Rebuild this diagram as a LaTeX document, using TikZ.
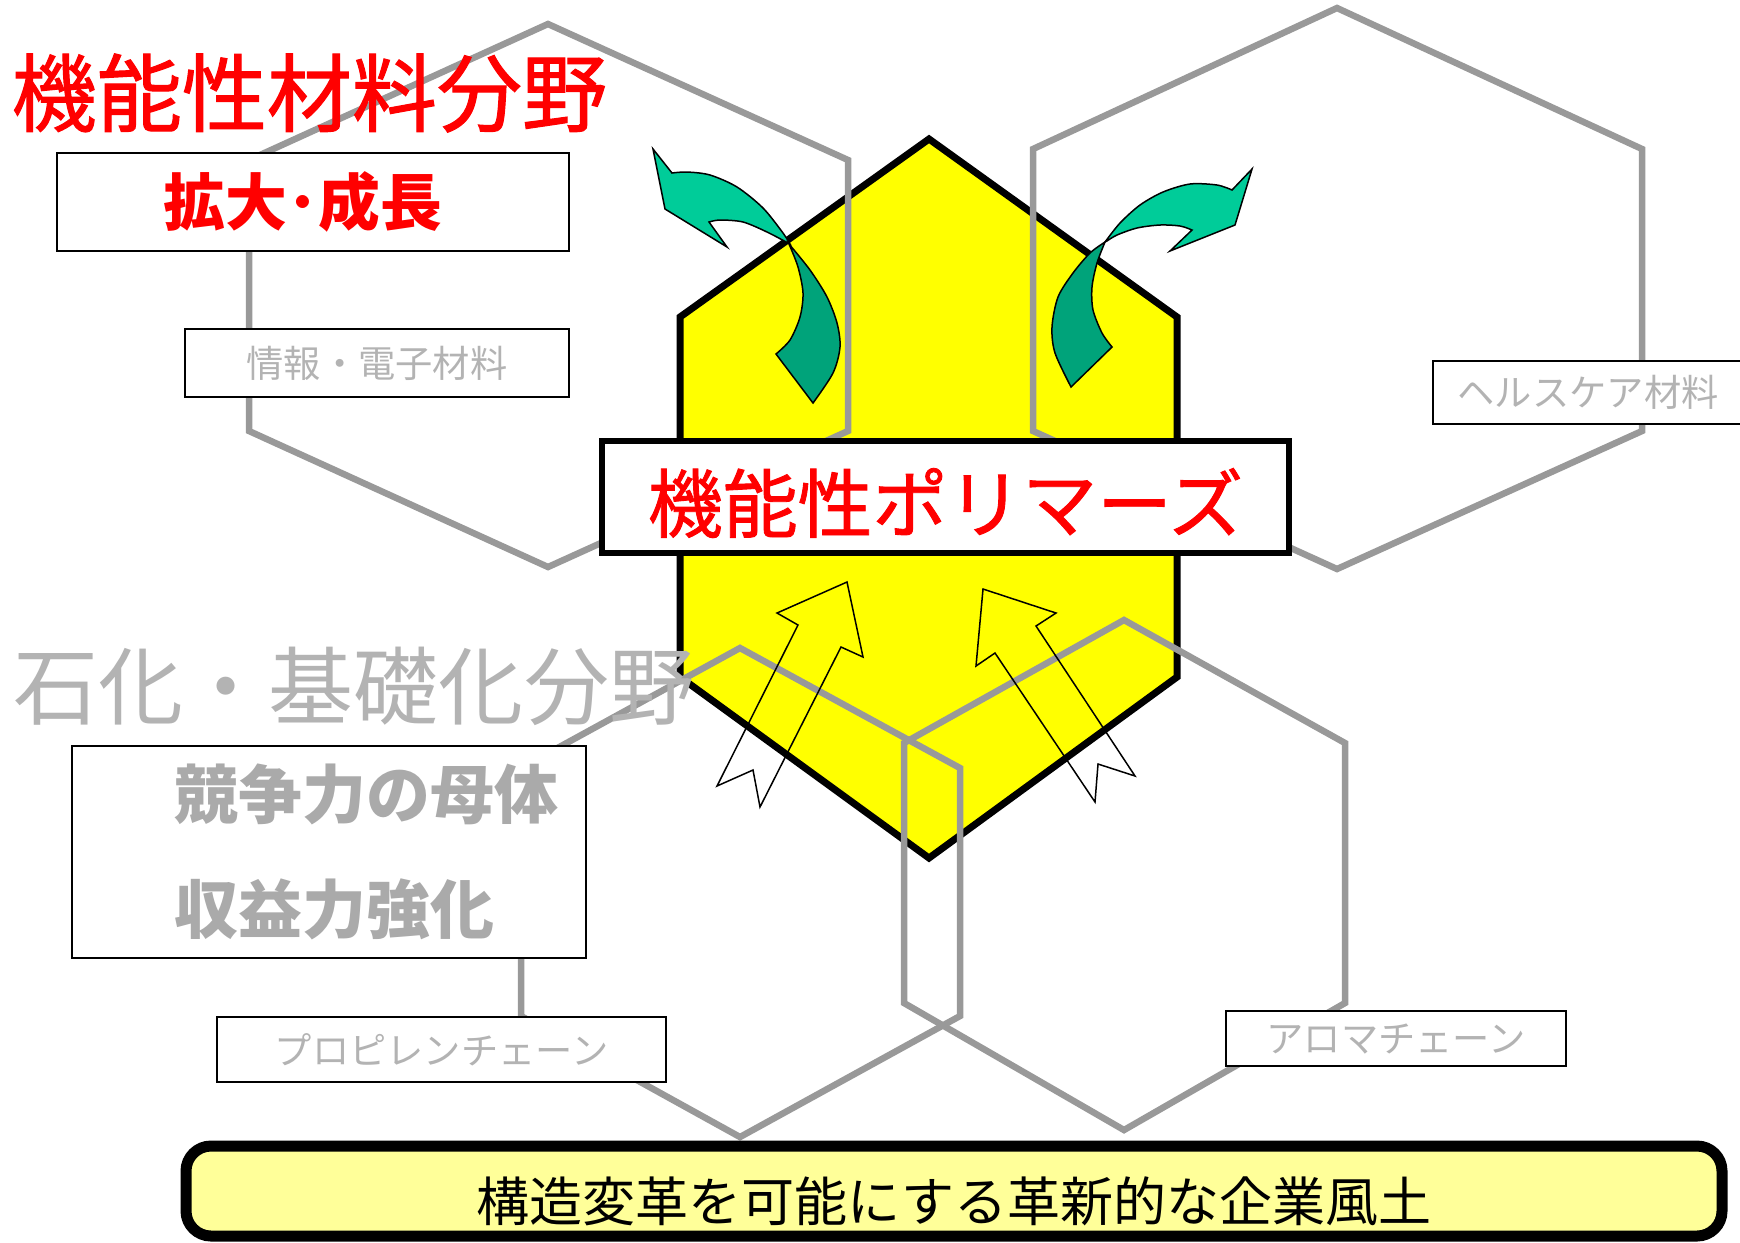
\documentclass[tikz,border=0pt]{standalone}
\usepackage{fontspec}
\newfontfamily\jpfont{Noto Sans CJK JP}
\newfontfamily\jpmed[FakeBold=1.2]{Noto Sans CJK JP}
\usetikzlibrary{positioning}
\definecolor{hexgray}{HTML}{999999}
\definecolor{txtgray}{HTML}{B3B3B3}
\definecolor{boldgray}{HTML}{AAAAAA}
\definecolor{hexyellow}{HTML}{FFFF00}
\definecolor{cultyellow}{HTML}{FFFF99}
\definecolor{greenlight}{HTML}{00CC99}
\definecolor{greendark}{HTML}{00A37A}
\newcommand{\titlesize}{\fontsize{24.2pt}{28pt}\selectfont}
\tikzset{
  hexline/.style={draw=hexgray,line width=0.65mm},
  thinbox/.style={draw=black,line width=0.2mm,fill=white,inner sep=0pt},
  smalltext/.style={text=txtgray,font=\jpfont\fontsize{10.6pt}{12pt}\selectfont},
  bigtitle/.style={inner sep=0pt,anchor=west},
  outline/.style={draw=black,line width=0.15mm},
}
\begin{document}
\begin{tikzpicture}[x=0.1mm,y=-0.1mm]
\useasboundingbox (0,0) rectangle (1740,1242);
% Kern: gelbes Sechseck
\filldraw[fill=hexyellow,draw=black,line width=0.7mm]
  (929,139) -- (1177,317) -- (1177,677) -- (929,858) -- (680,677) -- (680,317) -- cycle;
% Felder
\draw[hexline] (548,24) -- (848,160) -- (848,431) -- (548,567) -- (249,431) -- (249,160) -- cycle;
\draw[hexline] (1337,8) -- (1642,149) -- (1642,431) -- (1337,569) -- (1033,431) -- (1033,149) -- cycle;
\draw[hexline] (740,648) -- (960,768) -- (960,1016) -- (740,1137) -- (521,1016) -- (521,768) -- cycle;
\draw[hexline] (1124,620) -- (1345,743) -- (1345,1003) -- (1124,1130) -- (904,1003) -- (904,743) -- cycle;
% Kaesten
\node[thinbox,minimum width=51.2mm,minimum height=9.8mm] (kakudai) at (313,202) {};
\node[inner sep=0pt,text=red,font=\jpfont\bfseries\fontsize{17.6pt}{20pt}\selectfont]
  (kakudaitext) at ([xshift=-1mm]kakudai.center) {拡大･成長};
\node[thinbox,smalltext,minimum width=38.4mm,minimum height=6.8mm] (joho) at (377,363) {情報・電子材料};
\node[thinbox,minimum width=32.7mm,minimum height=6.3mm] (health) at (1596.5,392.5) {};
\node[smalltext,inner sep=0pt,right=2.5mm of health.west] (healthtext) {ヘルスケア材料};
\node[thinbox,draw=black,line width=0.6mm,minimum width=68.7mm,minimum height=11.2mm] (polymer) at (945.5,497) {};
\node[inner sep=0pt,text=red,font=\jpmed\fontsize{21.3pt}{24pt}\selectfont]
  (polymertext) at ([yshift=-0.6mm]polymer.center) {機能性ポリマーズ};
\node[thinbox,minimum width=51.4mm,minimum height=21.2mm] (kyoso) at (329,852) {};
\node[inner sep=0pt,align=left,text=boldgray,right=10.3mm of kyoso.west,
  font=\jpfont\bfseries\fontsize{18.2pt}{32.7pt}\selectfont] (kyosotext) {競争力の母体\\収益力強化};
\node[thinbox,smalltext,minimum width=44.9mm,minimum height=6.5mm] (propylene) at (441.5,1049.5) {プロピレンチェーン};
\node[thinbox,smalltext,minimum width=34mm,minimum height=5.5mm] (aroma) at (1396,1038.5) {アロマチェーン};
\node[draw=black,line width=1.1mm,fill=cultyellow,rounded corners=2.5mm,
  minimum width=153.6mm,minimum height=9mm] (culture) at (954,1191) {};
\node[inner sep=0pt,font=\jpfont\fontsize{15.1pt}{18pt}\selectfont]
  (culturetext) at ([yshift=-1mm]culture.center) {構造変革を可能にする革新的な企業風土};
% Ueberschriften
\node[bigtitle,text=red,font=\jpmed\titlesize] (kinoTitle) at (11,93) {機能性材料分野};
\node[bigtitle,text=txtgray,font=\jpfont\titlesize] (sekkaTitle) at (13,686) {石化・基礎化分野};
% gruene Pfeile
\filldraw[outline,fill=greenlight] (653,149) -- plot[smooth] coordinates {(672,173) (687,172) (710,175) (737,187) (763,208) (783,233) (790,244)}
  -- plot[smooth] coordinates {(788,243) (767,232) (743,222) (720,220) (709,222)} -- (727,247) -- (665,209) -- cycle;
\filldraw[outline,fill=greendark] plot[smooth] coordinates {(789,244) (810,270) (827,297) (837,323) (840,347) (833,373) (813,403)}
  -- plot[smooth] coordinates {(776,354) (790,340) (800,317) (803,293) (798,267) (789,244)} -- cycle;
\filldraw[outline,fill=greenlight] (1252,169) -- plot[smooth] coordinates {(1232,190) (1217,185) (1190,184) (1163,192) (1140,205) (1120,223) (1105,242)}
  -- plot[smooth] coordinates {(1107,241) (1117,235) (1137,228) (1160,225) (1180,226) (1192,230)} -- (1170,251) -- (1235,225) -- cycle;
\filldraw[outline,fill=greendark] plot[smooth] coordinates {(1105,242) (1090,253) (1073,273) (1058,297) (1052,327) (1055,353) (1071,387)}
  -- plot[smooth] coordinates {(1112,347) (1102,333) (1093,310) (1092,287) (1097,263) (1105,242)} -- cycle;
% weisse Pfeile
\draw[outline] (847,582) -- (863,657) -- (841,647) -- (760,807) -- (753,770) -- (717,786) -- (798,625) -- (777,613) -- cycle;
\draw[outline] (983,589) -- (1056,613) -- (1036,626) -- (1135,776) -- (1098,764) -- (1095,802) -- (995,653) -- (976,666) -- cycle;
\end{tikzpicture}
\end{document}
